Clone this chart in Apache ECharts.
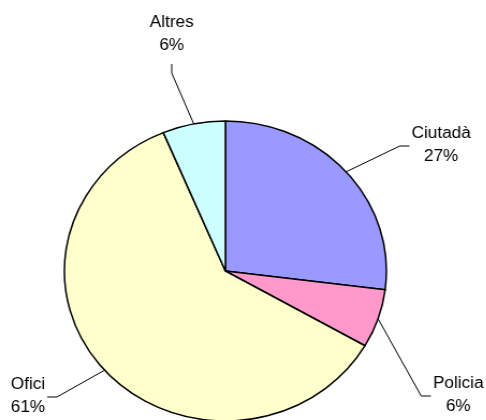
<!DOCTYPE html>
<html>
<head>
<meta charset="utf-8">
<script src="https://cdn.jsdelivr.net/npm/echarts@6/dist/echarts.min.js"></script>
<style>
  html, body { margin: 0; padding: 0; background: #fff; overflow: hidden; }
  /* the original picture is stretched sideways, so is this one */
  #chart { width: 453px; height: 420px; transform: scaleX(1.0733); transform-origin: 0 0; }
</style>
</head>
<body>
<div id="chart"></div>
<script>
// chart data
var categories = ['Ciutadà', 'Policia', 'Ofici', 'Altres'];
var values = [27, 6.3, 60.4, 6.3];
var sliceColors = ['#9999FF', '#FF99CC', '#FFFFCC', '#CCFFFF'];

// where each label block sits (centre, chart px)
var labelSpots = [[411, 145], [427, 395], [26, 396], [160, 34]];

var chart = echarts.init(document.getElementById('chart'));

var pieData = categories.map(function (name, i) {
  return { name: name, value: values[i], itemStyle: { color: sliceColors[i] } };
});

function placeLabel(params) {
  var spot = labelSpots[params.dataIndex];
  var w = params.labelRect.width, h = params.labelRect.height;
  var start = params.labelLinePoints ? params.labelLinePoints[0] : spot;
  var dx = spot[0] - start[0], dy = spot[1] - start[1];
  var pts;
  if (Math.abs(dy) > 2 * Math.abs(dx)) {
    // hook from below the text
    var yEnd = spot[1] + h / 2 + 7;
    pts = [start, [spot[0], yEnd + 9], [spot[0], yEnd]];
  } else {
    var side = dx > 0 ? -1 : 1;
    var xEnd = spot[0] + side * (w / 2 + 2);
    pts = [start, [xEnd + side * 9, spot[1] + 1], [xEnd, spot[1] + 1]];
  }
  return {
    x: spot[0],
    y: spot[1],
    align: 'center',
    verticalAlign: 'middle',
    labelLinePoints: pts
  };
}

var option = {
  backgroundColor: '#fff',
  animation: false,
  series: [{
    type: 'pie',
    center: [210, 271],
    radius: 150,
    startAngle: 90,
    clockwise: true,
    avoidLabelOverlap: false,
    percentPrecision: 0,
    itemStyle: { borderColor: '#000', borderWidth: 1.5 },
    label: {
      show: true,
      position: 'outside',
      formatter: '{b}\n{d}%',
      fontFamily: 'Arial, "Liberation Sans", sans-serif',
      fontSize: 16,
      lineHeight: 23,
      color: '#000',
      align: 'center'
    },
    labelLine: {
      show: true,
      length: 20,
      length2: 10,
      lineStyle: { color: '#000', width: 1 }
    },
    labelLayout: placeLabel,
    emphasis: { disabled: true },
    data: pieData
  }]
};

chart.setOption(option);
</script>
</body>
</html>
